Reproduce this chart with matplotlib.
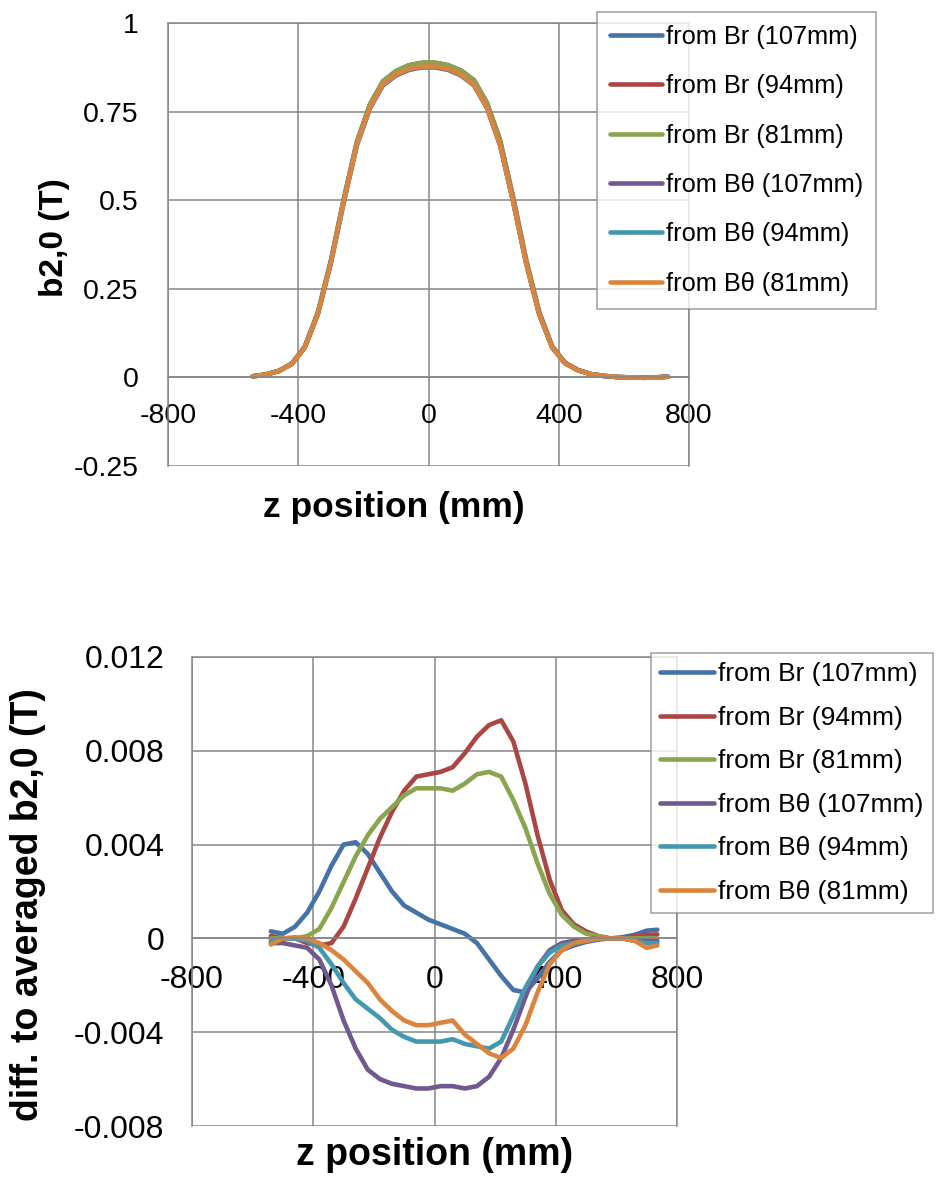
#b2,0 profile along z and deviation of each estimate from the averaged profile
import numpy as np
import matplotlib as mpl
import matplotlib.pyplot as plt
from matplotlib.ticker import FuncFormatter

mpl.rcParams['font.family'] = ['Liberation Sans', 'DejaVu Sans']

#%% data
z_mm = [-540, -500, -460, -420, -380, -340, -300, -260, -220, -180, -140, -100, -60, -20,
        20, 60, 100, 140, 180, 220, 260, 300, 340, 380, 420, 460, 500, 540, 580, 620, 660, 700, 735]

# averaged b2,0 (T)
b2_avg = [0.003, 0.008, 0.018, 0.038, 0.085, 0.18, 0.325, 0.50, 0.66, 0.765, 0.83, 0.858, 0.874, 0.881,
          0.881, 0.874, 0.858, 0.83, 0.765, 0.66, 0.50, 0.325, 0.18, 0.085, 0.040, 0.020, 0.009, 0.004,
          0.001, 0.0, -0.001, 0.0, 0.002]

# difference to averaged b2,0 (T)
diff_br_107 = [0.0003, 0.0002, 0.0005, 0.0011, 0.0020, 0.0031, 0.0040, 0.0041, 0.0036, 0.0028, 0.0020,
               0.0014, 0.0011, 0.0008, 0.0006, 0.0004, 0.0002, -0.0002, -0.0009, -0.0016, -0.0022,
               -0.0023, -0.0017, -0.0010, -0.0005, -0.0003, -0.00015, -0.00005, 0.0, 0.00005,
               0.00015, 0.00033, 0.00037]
diff_br_94 = [0.0001, 0.0, 0.0, -0.0002, -0.0003, -0.0002, 0.0005, 0.0017, 0.0030, 0.0043, 0.0054,
              0.0063, 0.0069, 0.0070, 0.0071, 0.0073, 0.0079, 0.0086, 0.0091, 0.0093, 0.0084, 0.0066,
              0.0044, 0.0025, 0.0012, 0.0006, 0.0003, 0.0001, 0.0, 0.0, 0.0001, 0.00015, 0.00017]
diff_br_81 = [0.0, 0.0, 0.0, 0.0001, 0.0004, 0.0013, 0.0024, 0.0035, 0.0044, 0.0051, 0.0056, 0.0061,
              0.0064, 0.0064, 0.0064, 0.0063, 0.0066, 0.0070, 0.0071, 0.0069, 0.0059, 0.0047, 0.0032,
              0.0019, 0.0010, 0.0005, 0.0002, 0.0001, 0.0, 0.0, 0.0, 0.0, 0.0]
diff_bt_107 = [-0.0002, -0.0002, -0.0003, -0.0004, -0.0009, -0.0020, -0.0035, -0.0047, -0.0056, -0.0060,
               -0.0062, -0.0063, -0.0064, -0.0064, -0.0063, -0.0063, -0.0064, -0.0063, -0.0059, -0.0051,
               -0.0039, -0.0025, -0.0012, -0.0005, -0.0002, -0.0001, -0.00005, 0.0, 0.0, 0.0, -0.0001,
               -0.0001, -0.0001]
diff_bt_94 = [-0.0001, 0.0, 0.0, -0.0001, -0.0004, -0.0011, -0.0019, -0.0026, -0.0030, -0.0034, -0.0039,
              -0.0042, -0.0044, -0.0044, -0.0044, -0.0043, -0.0045, -0.0046, -0.0047, -0.0044, -0.0033,
              -0.0021, -0.0012, -0.0006, -0.0003, -0.0002, -0.0001, 0.0, 0.0, 0.0, -0.0001, -0.0002,
              -0.0002]
diff_bt_81 = [-0.00026, 0.0, 0.00005, 0.0, -0.0002, -0.0005, -0.0009, -0.0014, -0.0019, -0.0026, -0.0031,
              -0.0035, -0.0037, -0.0037, -0.0036, -0.0035, -0.0041, -0.0045, -0.0049, -0.0051, -0.0047,
              -0.0037, -0.0023, -0.0011, -0.0005, -0.0002, -0.0001, 0.0, 0.0, 0.0, -0.0001, -0.0004,
              -0.0003]

labels = ["from Br (107mm)", "from Br (94mm)", "from Br (81mm)",
          "from B\u03b8 (107mm)", "from B\u03b8 (94mm)", "from B\u03b8 (81mm)"]
diffs = [diff_br_107, diff_br_94, diff_br_81, diff_bt_107, diff_bt_94, diff_bt_81]
colors = ['#4572A7', '#AA4643', '#89A54E', '#71588F', '#4198AF', '#DB843D']

grid_col = '#868686'
fmt = FuncFormatter(lambda v, p: "%g" % v)

W, H = 941, 1177
fig = plt.figure(figsize=(W/100, H/100), dpi=100)

def px_axes(l, t, r, b):
    return fig.add_axes([l/W, 1-b/H, (r-l)/W, (b-t)/H])

def style_axes(ax, tick_fs, xpad, ypad):
    ax.grid(True, color=grid_col, lw=1.1)
    ax.set_axisbelow(True)
    for s in ax.spines.values():
        s.set_color(grid_col)
        s.set_linewidth(1.1)
    ax.spines['bottom'].set_position(('data', 0))
    ax.xaxis.set_major_formatter(fmt)
    ax.yaxis.set_major_formatter(fmt)
    ax.tick_params(axis='x', length=0, labelsize=tick_fs, pad=xpad)
    ax.tick_params(axis='y', length=0, labelsize=tick_fs, pad=ypad)

line_kw = dict(lw=3.3, solid_capstyle='round', solid_joinstyle='round')

#%% top: b2,0 profiles
ax1 = px_axes(168, 23, 689, 466)
z = np.array(z_mm)
for d, lab, c in zip(diffs, labels, colors):
    ax1.plot(z, np.array(b2_avg) + np.array(d), color=c, label=lab, **line_kw)
ax1.set_xlim(-800, 800)
ax1.set_ylim(-0.25, 1)
ax1.set_xticks([-800, -400, 0, 400, 800])
ax1.set_yticks([-0.25, 0, 0.25, 0.5, 0.75, 1])
style_axes(ax1, 20.5, 18.5, 21)
leg1 = ax1.legend(loc='upper left', bbox_to_anchor=(597/W, 1-12/H), bbox_transform=fig.transFigure,
                  fontsize=18.3, frameon=True, fancybox=False, handlelength=2.05, handletextpad=0.15,
                  labelspacing=1.0, borderpad=0.5, borderaxespad=0)
leg1.get_frame().set_edgecolor(grid_col)
leg1.get_frame().set_linewidth(1.1)
fig.text(54/W, 1-238/H, "b2,0 (T)", rotation=90, ha='center', va='center', fontsize=24, fontweight='bold')
fig.text(394/W, 1-508/H, "z position (mm)", ha='center', va='center', fontsize=25.5, fontweight='bold')

#%% bottom: difference to the averaged profile
ax2 = px_axes(192, 657, 677, 1126)
for d, lab, c in zip(diffs, labels, colors):
    ax2.plot(z, d, color=c, label=lab, **line_kw)
ax2.set_xlim(-800, 800)
ax2.set_ylim(-0.008, 0.012)
ax2.set_xticks([-800, -400, 0, 400, 800])
ax2.set_yticks([-0.008, -0.004, 0, 0.004, 0.008, 0.012])
style_axes(ax2, 23, 19.5, 20)
leg2 = ax2.legend(loc='upper left', bbox_to_anchor=(651/W, 1-653/H), bbox_transform=fig.transFigure,
                  fontsize=19, frameon=True, fancybox=False, handlelength=2.05, handletextpad=0.15,
                  labelspacing=0.74, borderpad=0.35, borderaxespad=0)
leg2.get_frame().set_edgecolor(grid_col)
leg2.get_frame().set_linewidth(1.1)
fig.text(28/W, 1-905/H, "diff. to averaged b2,0 (T)", rotation=90, ha='center', va='center',
         fontsize=27, fontweight='bold')
fig.text(435/W, 1-1155/H, "z position (mm)", ha='center', va='center', fontsize=27, fontweight='bold')

fig.savefig("out.png", dpi=100)
